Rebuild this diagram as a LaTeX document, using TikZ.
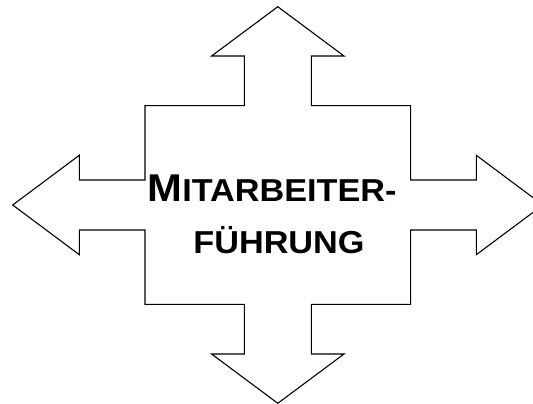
\documentclass[tikz,border=0pt]{standalone}
\usepackage{fontspec}
\newfontfamily\headfont[FakeStretch=1.08]{Liberation Sans}

\begin{document}
\begin{tikzpicture}[x=1pt,y=-1pt,line width=1.1pt,line join=miter]
	\useasboundingbox (0,0) rectangle (533,404);
	\draw (277.8,6.7)--(344,56)--(311.3,56)--(311.3,105.6)--(410.6,105.6)--(410.6,180)
		--(476.3,180)--(476.3,155.3)--(542.9,205)--(476.3,254.7)--(476.3,230)--(410.6,230)
		--(410.6,304.4)--(311.3,304.4)--(311.3,354)--(344,354)--(277.8,403.3)--(211.6,354)
		--(244.3,354)--(244.3,304.4)--(145,304.4)--(145,230)--(79.3,230)--(79.3,254.7)
		--(12.7,205)--(79.3,155.3)--(79.3,180)--(145,180)--(145,105.6)--(244.3,105.6)
		--(244.3,56)--(211.6,56)--cycle;
	\node[anchor=base,inner sep=0pt] (line1) at (272,201)
		{\headfont\bfseries\fontsize{38.7}{40}\selectfont M\fontsize{31.7}{33}\selectfont ITARBEITER-};
	\node[anchor=base,inner sep=0pt] (line2) at (279,253.3)
		{\headfont\bfseries\fontsize{31.7}{33}\selectfont FÜHRUNG};
\end{tikzpicture}
\end{document}
